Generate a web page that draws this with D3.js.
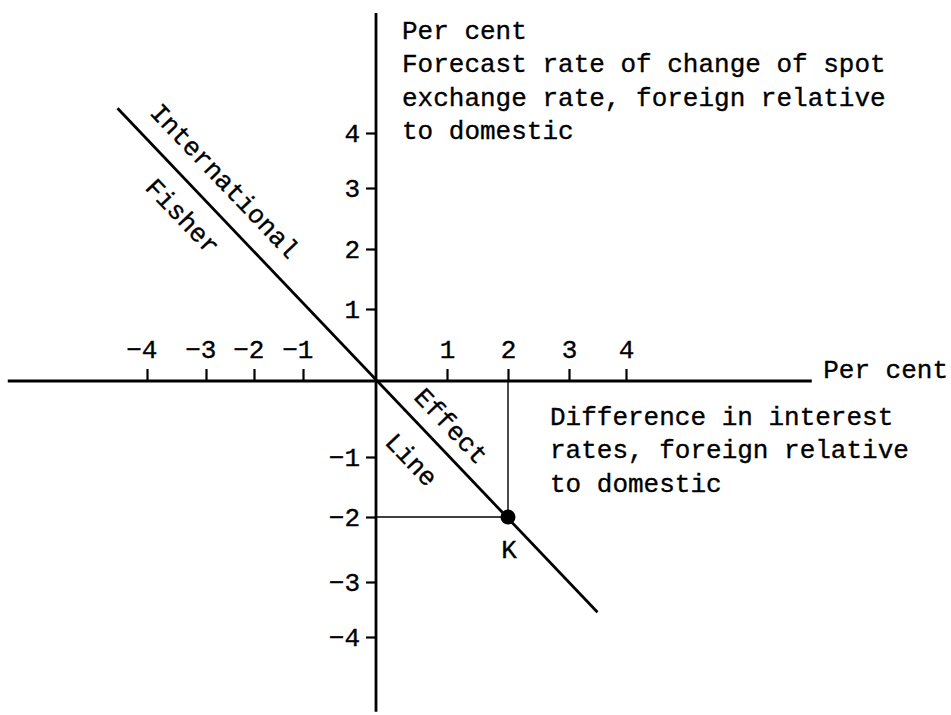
<!DOCTYPE html>
<html>
<head>
<meta charset="utf-8">
<script src="https://cdn.jsdelivr.net/npm/d3@7"></script>
<style>
  html, body { margin: 0; padding: 0; background: #fff; }
  svg text { font-family: "Liberation Mono", "Courier New", monospace; fill: #000; stroke: #000; stroke-width: 0.35px; }
</style>
</head>
<body>
<svg id="chart" width="951" height="715"></svg>
<script>
// ---- data ----
const tickValues = [-4, -3, -2, -1, 0, 1, 2, 3, 4];
const xTickLabels = [-4, -3, -2, -1, 1, 2, 3, 4];
const yTickLabels = [4, 3, 2, 1, -1, -2, -3, -4];
const fisherLine = [[-4.5, 4.45], [3.5, -3.55]];
const pointK = [2, -2];
const pointLabel = "K";
const yAxisTitle = ["Per cent", "Forecast rate of change of spot", "exchange rate, foreign relative", "to domestic"];
const xAxisTitle = ["Difference in interest", "rates, foreign relative", "to domestic"];
const xUnit = "Per cent";
const lineLabelAbove = ["International", "Effect"];
const lineLabelBelow = ["Fisher", "Line"];
const xExtent = [-6.36, 7.26];
const yExtent = [-5.36, 6.18];

// ---- scales (hand-drawn, slightly irregular spacing) ----
const x = d3.scaleLinear().domain(tickValues).range([147, 206, 254, 303, 376, 447, 508, 569, 626]);
const y = d3.scaleLinear().domain(tickValues).range([637, 582, 517, 457, 381, 309, 249, 188, 133]);

const svg = d3.select("#chart");
const fs = 26;
const fmt = d => d < 0 ? "\u2212" + Math.abs(d) : String(d);

// axes
svg.append("line").attr("x1", x(xExtent[0])).attr("x2", x(xExtent[1]))
  .attr("y1", y(0)).attr("y2", y(0)).attr("stroke", "#000").attr("stroke-width", 2.8);
svg.append("line").attr("x1", x(0)).attr("x2", x(0))
  .attr("y1", y(yExtent[0])).attr("y2", y(yExtent[1])).attr("stroke", "#000").attr("stroke-width", 2.8);

// x axis ticks
const xa = svg.append("g").attr("transform", `translate(0,${y(0)})`)
  .call(d3.axisTop(x).tickValues(xTickLabels).tickSize(12).tickPadding(11).tickFormat(fmt));
xa.select(".domain").remove();
xa.selectAll(".tick line").attr("stroke", "#000").attr("stroke-width", 2.2);
xa.selectAll(".tick text").attr("font-size", fs).attr("font-family", null)
  .attr("text-anchor", d => d < 0 ? "end" : "middle")
  .attr("dx", d => d < 0 ? "0.38em" : 0);

// y axis ticks
const ya = svg.append("g").attr("transform", `translate(${x(0)},0)`)
  .call(d3.axisLeft(y).tickValues(yTickLabels).tickSize(10).tickPadding(6).tickFormat(fmt));
ya.select(".domain").remove();
ya.selectAll(".tick line").attr("stroke", "#000").attr("stroke-width", 2.2);
ya.selectAll(".tick text").attr("font-size", fs).attr("font-family", null);

// guide lines to K
svg.append("line").attr("x1", x(0)).attr("x2", x(pointK[0]))
  .attr("y1", y(pointK[1])).attr("y2", y(pointK[1])).attr("stroke", "#000").attr("stroke-width", 1.4);
svg.append("line").attr("x1", x(pointK[0])).attr("x2", x(pointK[0]))
  .attr("y1", y(0)).attr("y2", y(pointK[1])).attr("stroke", "#000").attr("stroke-width", 1.4);

// Fisher line
svg.append("path").datum(fisherLine)
  .attr("d", d3.line().x(d => x(d[0])).y(d => y(d[1])))
  .attr("fill", "none").attr("stroke", "#000").attr("stroke-width", 2.8);

// point K
svg.append("circle").attr("cx", x(pointK[0])).attr("cy", y(pointK[1])).attr("r", 7.5).attr("fill", "#000");
svg.append("text").attr("x", x(pointK[0]) + 1).attr("y", y(pointK[1]) + 41)
  .attr("text-anchor", "middle").attr("font-size", fs).text(pointLabel);

// line labels (rotated along the line)
const p0 = [x(fisherLine[0][0]), y(fisherLine[0][1])];
const p1 = [x(fisherLine[1][0]), y(fisherLine[1][1])];
const ang = Math.atan2(p1[1] - p0[1], p1[0] - p0[0]) * 180 / Math.PI;
function labelAt(text, dataX, offset) {
  const t = (x(dataX) - p0[0]) / (p1[0] - p0[0]);
  const px = p0[0] + t * (p1[0] - p0[0]);
  const py = p0[1] + t * (p1[1] - p0[1]);
  const r = ang * Math.PI / 180;
  const nx = -Math.sin(r), ny = Math.cos(r);
  svg.append("text")
    .attr("transform", `translate(${px + nx * offset},${py + ny * offset}) rotate(${ang})`)
    .attr("text-anchor", "middle").attr("dominant-baseline", "central")
    .attr("font-size", fs).text(text);
}
labelAt(lineLabelAbove[0], -3.02, -26);
labelAt(lineLabelBelow[0], -3.06, 29);
labelAt(lineLabelAbove[1], 0.83, -21);
labelAt(lineLabelBelow[1], 0.8, 31);

// y axis title block
const yt = svg.append("text").attr("font-size", fs);
yAxisTitle.forEach((s, i) => yt.append("tspan").attr("x", 402).attr("y", 39 + i * 33.3).text(s));

// x axis unit
svg.append("text").attr("x", 948).attr("y", y(0) - 3).attr("text-anchor", "end").attr("font-size", fs).text(xUnit);

// x axis title block
const xt = svg.append("text").attr("font-size", fs);
xAxisTitle.forEach((s, i) => xt.append("tspan").attr("x", 550).attr("y", 425 + i * 33.3).text(s));
</script>
</body>
</html>
